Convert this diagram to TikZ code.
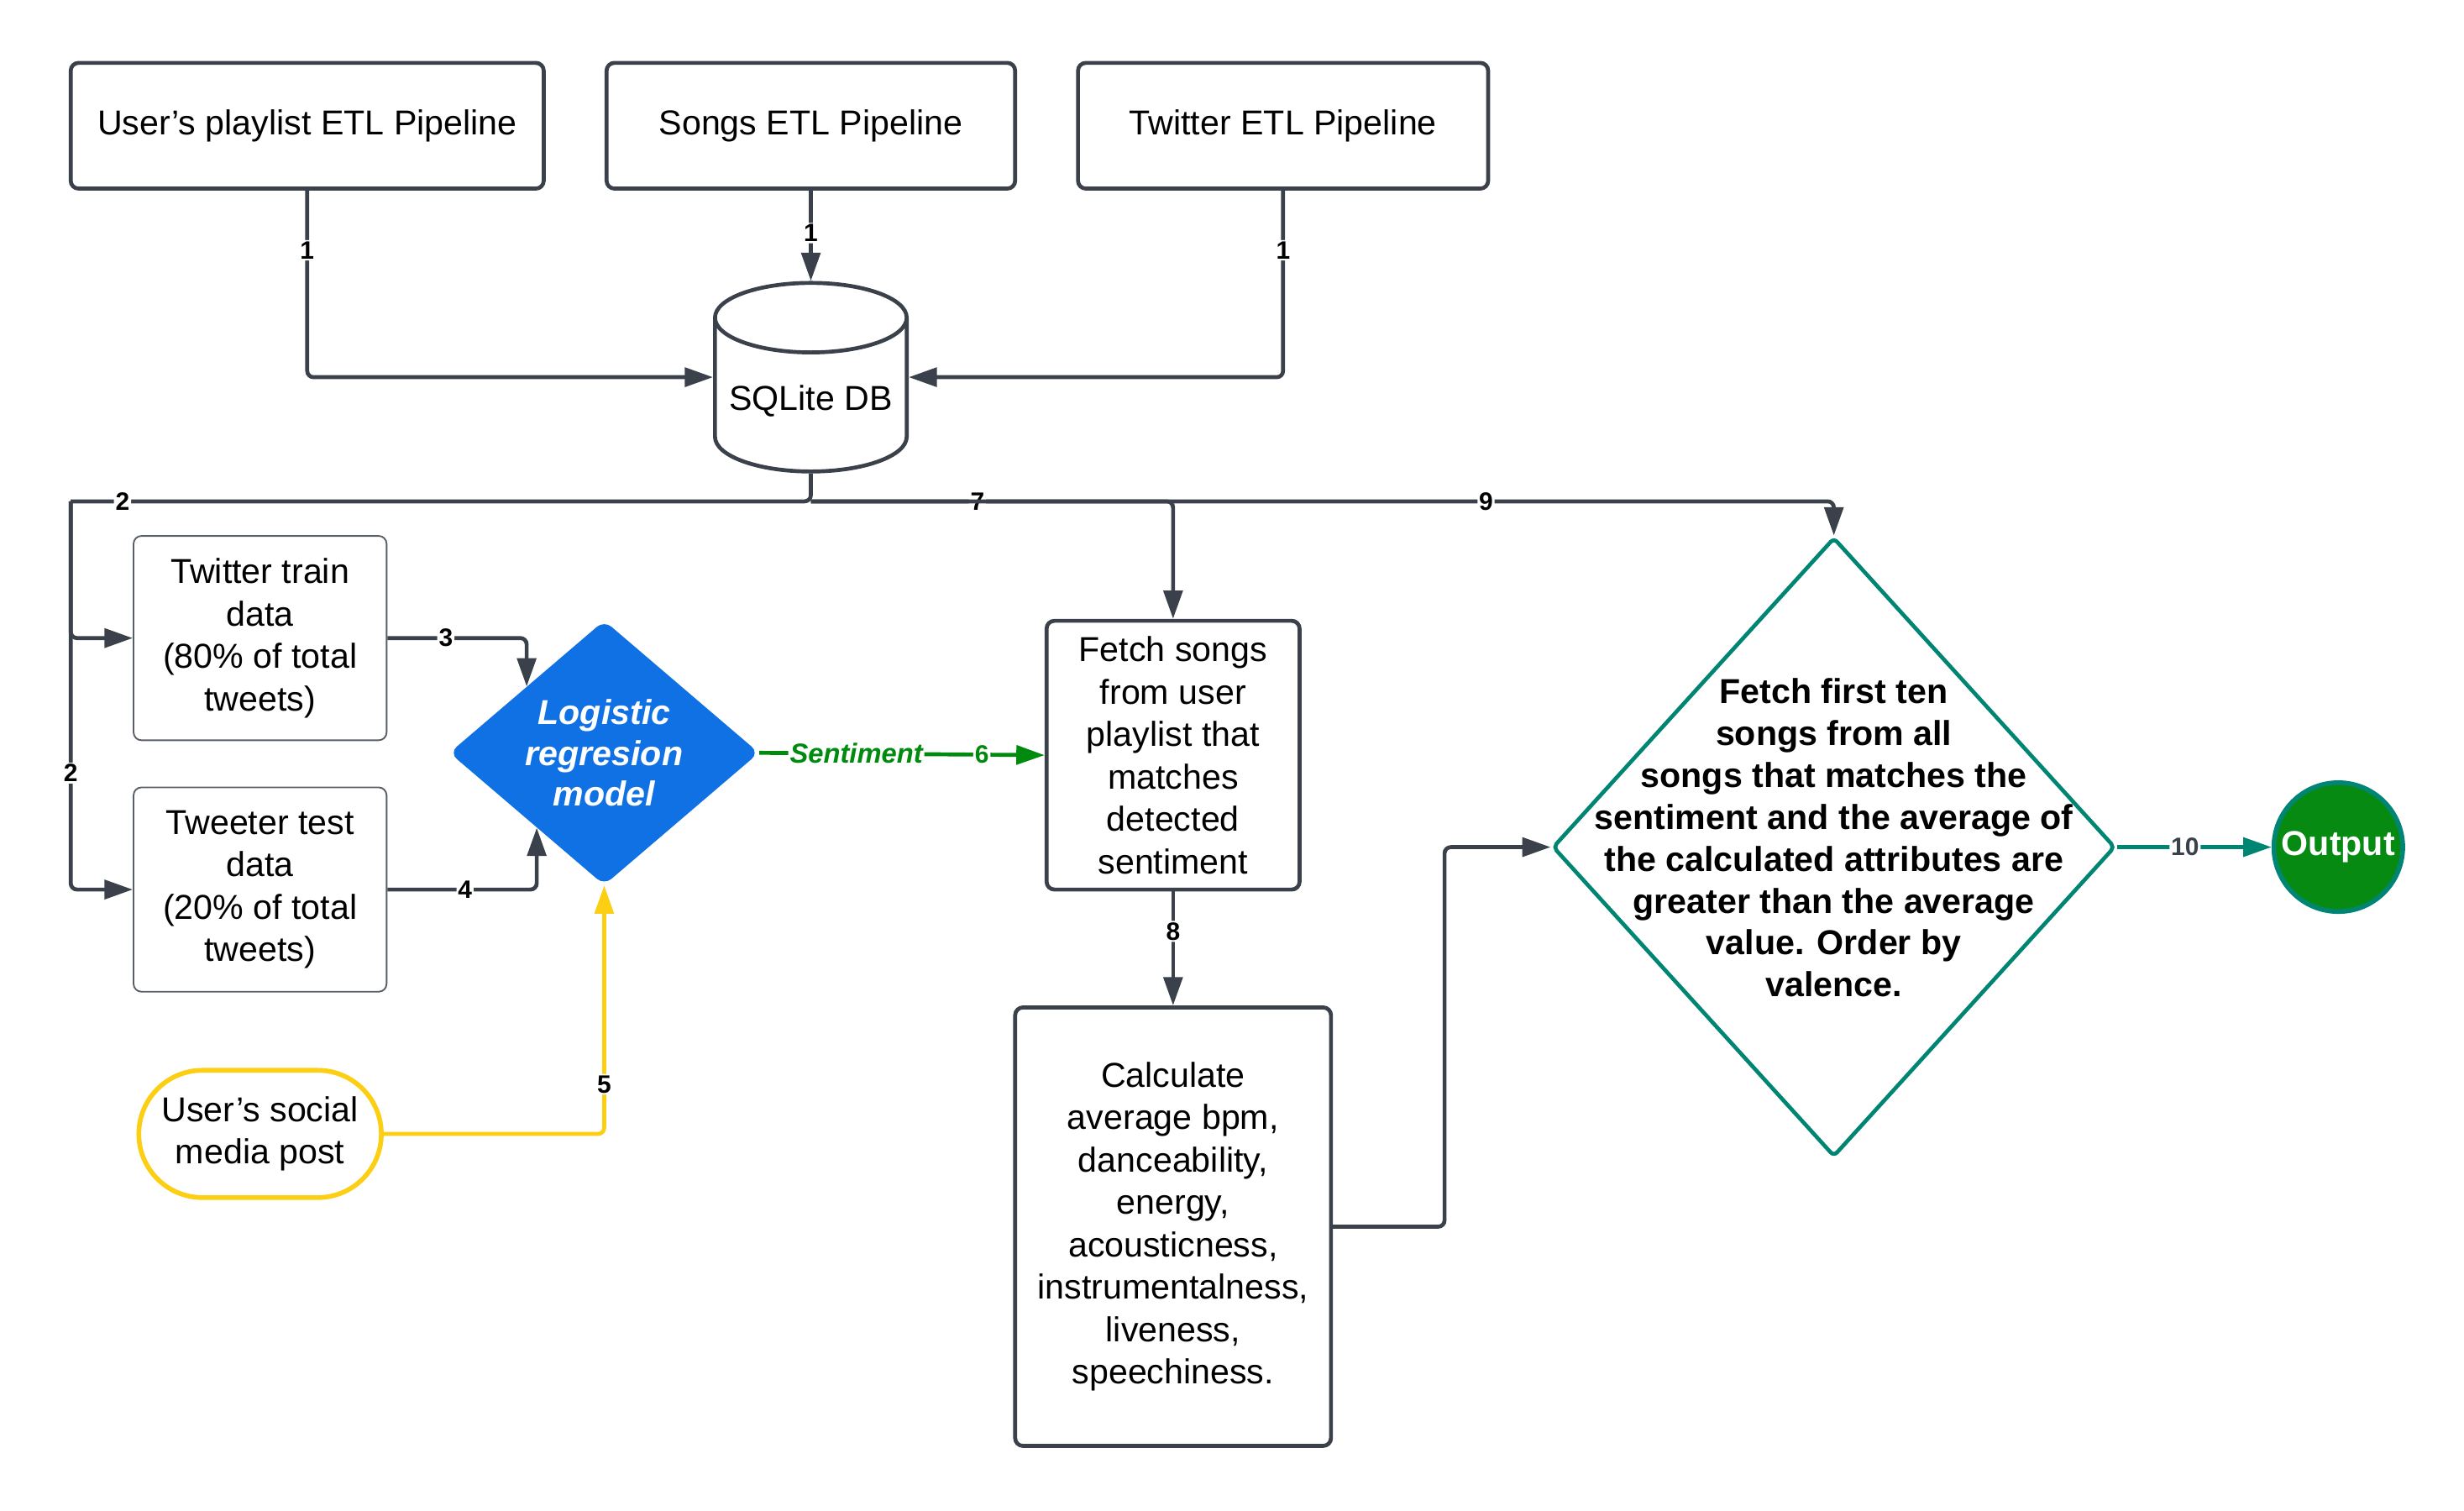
\documentclass[tikz,border=0pt]{standalone}
\usepackage{fontspec}
\setmainfont{Liberation Sans}
\usetikzlibrary{arrows.meta,shapes.geometric,shapes.misc}

\definecolor{lineg}{RGB}{58,65,74}
\definecolor{lrblue}{RGB}{16,113,229}
\definecolor{sentgreen}{RGB}{0,138,14}
\definecolor{postyellow}{RGB}{252,206,20}
\definecolor{pickteal}{RGB}{0,133,115}
\definecolor{outgreen}{RGB}{6,138,18}

\begin{document}
\begin{tikzpicture}[x=1pt,y=-1pt]
        \tikzstyle{every node}=[font=\fontsize{22}{27}\selectfont, align=center]
        \tikzstyle{etl}=[draw=lineg, line width=2.5pt, rounded corners=5pt, minimum width=301pt, minimum height=80pt]
        \tikzstyle{dbcyl}=[draw=lineg, line width=2.5pt, cylinder, shape border rotate=90, aspect=0.4, minimum width=122pt, minimum height=120pt]
        \tikzstyle{dataset}=[draw=lineg!85, line width=1pt, rounded corners=5pt, minimum width=161pt, minimum height=130pt, inner sep=2pt]
        \tikzstyle{model}=[diamond, fill=lrblue, rounded corners=6pt, minimum width=197pt, minimum height=159pt, inner sep=0pt, text=white, font=\bfseries\itshape\fontsize{22}{26}\selectfont]
        \tikzstyle{post}=[rounded rectangle, draw=postyellow, line width=3pt, minimum width=161pt, minimum height=81pt]
        \tikzstyle{procbox}=[draw=lineg, line width=2.5pt, rounded corners=5pt, inner sep=2pt]
        \tikzstyle{pick}=[diamond, draw=pickteal, line width=2.5pt, rounded corners=3pt, minimum width=358pt, minimum height=394pt, inner sep=0pt]
        \tikzstyle{picktext}=[font=\bfseries\fontsize{22}{26.7}\selectfont, align=center, yshift=6pt]
        \tikzstyle{outnode}=[circle, fill=outgreen, draw=pickteal, line width=3pt, minimum size=82pt, inner sep=0pt, text=white, font=\bfseries\fontsize{22}{27}\selectfont]
        \tikzstyle{conn}=[draw=lineg, line width=2.5pt, rounded corners=4pt, -{Triangle[length=18pt,width=12pt]}]
        \tikzstyle{num}=[fill=white, inner sep=1pt, text=black, font=\bfseries\fontsize{16}{16}\selectfont]
        \tikzstyle{sentlbl}=[fill=white, inner sep=1pt, text=sentgreen, font=\bfseries\itshape\fontsize{17.5}{18}\selectfont]

        \useasboundingbox (0,0) rectangle (1568,961);

        % ETL pipelines and the database
        \node[etl] (userpl) at (195.5,80) {User's playlist ETL Pipeline};
        \node[etl, minimum width=260pt] (songs) at (516,80) {Songs ETL Pipeline};
        \node[etl, minimum width=261pt] (twitter) at (816.5,80) {Twitter ETL Pipeline};
        \node[dbcyl, anchor=shape center] (db) at (516,240) {SQLite DB};

        % sentiment model
        \node[dataset] (train) at (165.5,406) {Twitter train\\data\\(80\% of total\\tweets)};
        \node[dataset] (test) at (165.5,566) {Tweeter test\\data\\(20\% of total\\tweets)};
        \node[model] (logit) at (384.5,479) {Logistic\\regresion\\model};
        \node[post] (post) at (165.5,721.5) {User's social\\media post};

        % song selection
        \node[procbox, minimum width=161pt, minimum height=171pt] (fetch) at (746.5,480.5) {Fetch songs\\from user\\playlist that\\matches\\detected\\sentiment};
        \node[procbox, minimum width=201pt, minimum height=279pt] (calc) at (746.5,780.5) {Calculate\\average bpm,\\danceability,\\energy,\\acousticness,\\instrumentalness,\\liveness,\\speechiness.};
        \node[pick, label={[picktext]center:{Fetch first ten\\songs from all\\songs that matches the\\sentiment and the average of\\the calculated attributes are\\greater than the average\\value. Order by\\valence.}}] (pick) at (1167,539) {};
        \node[outnode] (out) at (1488,539) {Output};

        \coordinate (stem) at (516,319);
        \coordinate (bus) at (45,319);

        \draw[conn] (userpl.south) |- (db.west |- db.shape center) node[num, pos=0.16] {1};
        \draw[conn] (songs.south) -- (db.north) node[num, pos=0.47] {1};
        \draw[conn] (twitter.south) |- (db.east |- db.shape center) node[num, pos=0.16] {1};
        \draw[conn, -] (db.south) -- (stem) -- (bus) node[num, pos=0.93] {2};
        \draw[conn] (bus) |- (train.west);
        \draw[conn] (bus) |- (test.west) node[num, pos=0.35] {2};
        \draw[conn] (stem) -| (fetch.north) node[num, pos=0.23] {7};
        \draw[conn] (stem) -| (pick.north) node[num, pos=0.33] {9};
        \draw[conn] (train.east) -| (logit.north west) node[num, pos=0.21] {3};
        \draw[conn] (test.east) -| (logit.228) node[num, pos=0.26] {4};
        \draw[conn, draw=postyellow] (post.east) -| (logit.south) node[num, pos=0.6] {5};
        \draw[conn, draw=sentgreen] (logit.east) -- (fetch.west) node[sentlbl, pos=0.34] {Sentiment} node[num, text=sentgreen, pos=0.78] {6};
        \draw[conn] (fetch.south) -- (calc.north) node[num, pos=0.35] {8};
        \draw[conn] (calc.east) -- ++(71,0) |- (pick.west);
        \draw[conn, draw=pickteal] (pick.east) -- (out.west) node[num, text=lineg, pos=0.44] {10};
\end{tikzpicture}
\end{document}
